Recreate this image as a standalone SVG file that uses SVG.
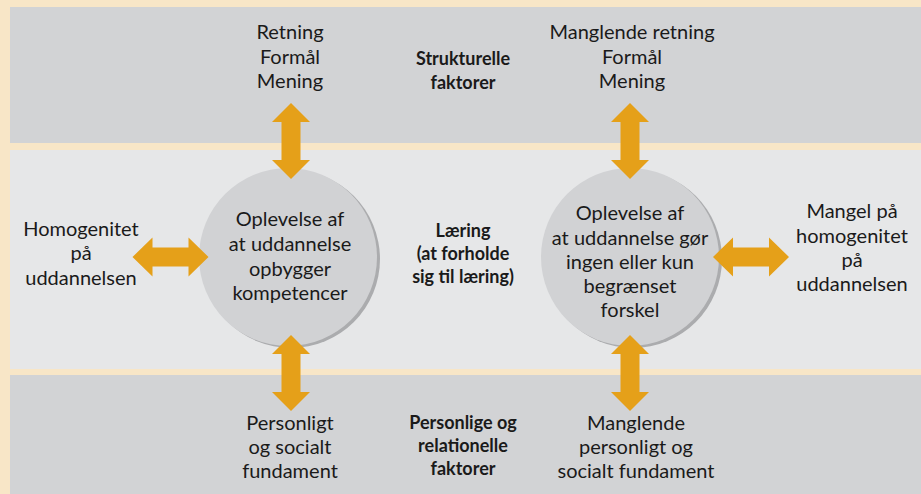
<svg xmlns="http://www.w3.org/2000/svg" width="921" height="494" viewBox="0 0 921 494">
<defs>
<style>
.t{font-family:Lato,"Open Sans","Liberation Sans",sans-serif;font-size:20px;fill:#1a1a1a;text-anchor:middle}
.b{font-family:Lato,"Open Sans","Liberation Sans",sans-serif;font-size:18px;font-weight:bold;fill:#1a1a1a;text-anchor:middle}
.band{fill:#d2d3d5}
.mid{fill:#e6e7e8}
.circ{fill:#d1d2d4}
.shad{fill:#abacae}
.arr{fill:#e5a019}
</style>
<path id="varrow" d="M0,-38 L19,-19 L9.5,-19 L9.5,19 L19,19 L0,38 L-19,19 L-9.5,19 L-9.5,-19 L-19,-19 Z"/>
<path id="harrow" d="M-38,0 L-18,-19.5 L-18,-9.5 L18,-9.5 L18,-19.5 L38,0 L18,19.5 L18,9.5 L-18,9.5 L-18,19.5 Z"/>
</defs>
<rect x="0" y="0" width="921" height="494" fill="#f8e6c7"/>
<g id="bands">
<rect class="band" x="10" y="7" width="911" height="136"/>
<rect class="mid" x="10" y="150" width="911" height="219"/>
<rect class="band" x="10" y="375" width="911" height="119"/>
</g>
<g id="band-labels">
<text class="b" x="463" y="65">Strukturelle</text>
<text class="b" x="463" y="89">faktorer</text>
<text class="b" x="463" y="237">Læring</text>
<text class="b" x="463" y="260">(at forholde</text>
<text class="b" x="463" y="283">sig til læring)</text>
<text class="b" x="463" y="429">Personlige og</text>
<text class="b" x="463" y="452">relationelle</text>
<text class="b" x="463" y="475">faktorer</text>
</g>
<g id="node-left-circle">
<circle class="shad" cx="291" cy="259" r="89"/>
<circle class="circ" cx="288" cy="257" r="89"/>
<text class="t" x="290" y="226">Oplevelse af</text>
<text class="t" x="290" y="251">at uddannelse</text>
<text class="t" x="290" y="276">opbygger</text>
<text class="t" x="290" y="300">kompetencer</text>
</g>
<g id="node-right-circle">
<circle class="shad" cx="633" cy="259" r="89"/>
<circle class="circ" cx="630" cy="257" r="89"/>
<text class="t" x="630" y="220">Oplevelse af</text>
<text class="t" x="630" y="245">at uddannelse gør</text>
<text class="t" x="630" y="269">ingen eller kun</text>
<text class="t" x="630" y="293">begrænset</text>
<text class="t" x="630" y="317">forskel</text>
</g>
<g id="connectors">
<use href="#varrow" class="arr" x="291" y="141"/>
<use href="#varrow" class="arr" x="291" y="373"/>
<use href="#harrow" class="arr" x="170.5" y="257"/>
<use href="#varrow" class="arr" x="630" y="141"/>
<use href="#varrow" class="arr" x="630" y="373"/>
<use href="#harrow" class="arr" x="751" y="257"/>
</g>
<g id="node-top-left">
<text class="t" x="290" y="39">Retning</text>
<text class="t" x="290" y="64">Formål</text>
<text class="t" x="290" y="88">Mening</text>
</g>
<g id="node-top-right">
<text class="t" x="632" y="39">Manglende retning</text>
<text class="t" x="632" y="64">Formål</text>
<text class="t" x="632" y="88">Mening</text>
</g>
<g id="node-left">
<text class="t" x="81" y="236">Homogenitet</text>
<text class="t" x="81" y="260">på</text>
<text class="t" x="81" y="285">uddannelsen</text>
</g>
<g id="node-right">
<text class="t" x="852" y="218">Mangel på</text>
<text class="t" x="852" y="243">homogenitet</text>
<text class="t" x="852" y="267">på</text>
<text class="t" x="852" y="291">uddannelsen</text>
</g>
<g id="node-bottom-left">
<text class="t" x="290" y="430">Personligt</text>
<text class="t" x="290" y="454">og socialt</text>
<text class="t" x="290" y="478">fundament</text>
</g>
<g id="node-bottom-right">
<text class="t" x="636" y="430">Manglende</text>
<text class="t" x="636" y="454">personligt og</text>
<text class="t" x="636" y="478">socialt fundament</text>
</g>
</svg>
